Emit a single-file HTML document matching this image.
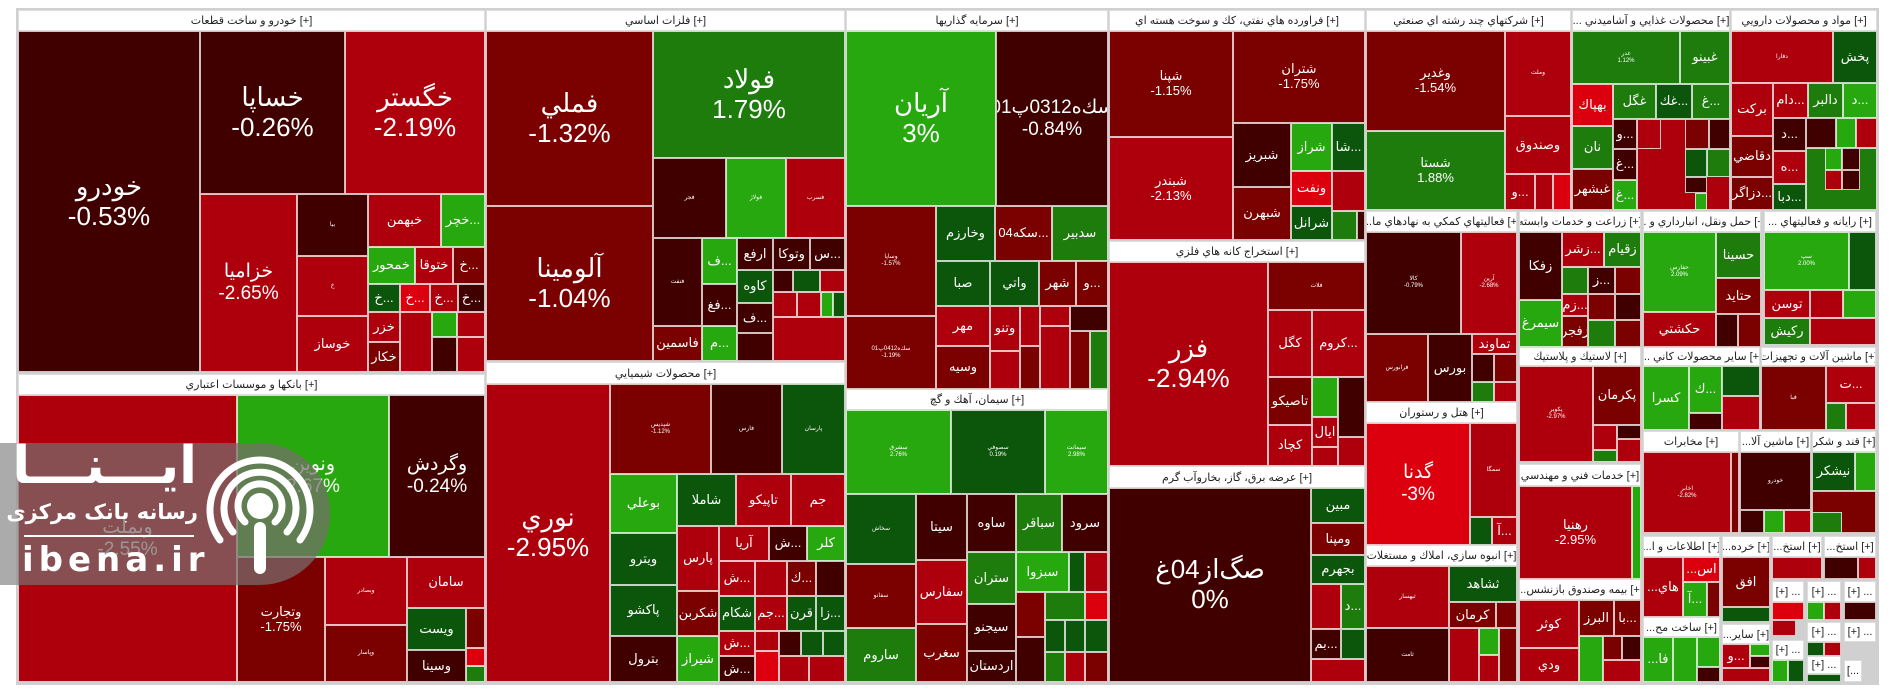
<!DOCTYPE html>
<html><head><meta charset="utf-8"><style>
body{margin:0;width:1896px;height:698px;background:#fff;position:relative;overflow:hidden;font-family:"Liberation Sans","DejaVu Sans",sans-serif}
.bg{position:absolute;left:16px;top:8px;width:1863px;height:677px;background:#d0d0d0}
.c{position:absolute;box-sizing:border-box;border:1px solid rgba(255,255,255,.75);color:#fff;display:flex;align-items:center;justify-content:center;text-align:center;line-height:1.15;overflow:hidden;font-size:11px}
.h{position:absolute;box-sizing:border-box;background:#fff;color:#222;font-size:11px;display:flex;align-items:center;justify-content:center;white-space:nowrap;overflow:hidden;border:1px solid #ddd}
.k0{background:#400000}.k1{background:#7b0000}.k2{background:#ae000c}.k3{background:#dc000f}
.g1{background:#27a80e}.g2{background:#1e7c0d}.g3{background:#0b560b}
.b{font-size:26px}.m{font-size:19px}.s{font-size:13px}.t{font-size:6px}
</style></head><body>
<div class="bg"></div>
<!-- Auto -->
<div class="h" style="left:18px;top:10px;width:467px;height:21px">خودرو و ساخت قطعات [+]</div>
<div class="c k0 b" style="left:18px;top:31px;width:182px;height:341px">خودرو<br>-0.53%</div>
<div class="c k0 b" style="left:200px;top:31px;width:145px;height:163px">خساپا<br>-0.26%</div>
<div class="c k2 b" style="left:345px;top:31px;width:140px;height:163px">خگستر<br>-2.19%</div>
<div class="c k2 m" style="left:200px;top:194px;width:97px;height:178px">خزامیا<br>-2.65%</div>
<div class="c k0 t" style="left:297px;top:194px;width:71px;height:62px">بيا</div>
<div class="c k2 t" style="left:297px;top:256px;width:71px;height:60px">خ</div>
<div class="c k2 s" style="left:297px;top:316px;width:71px;height:56px">خوساز</div>
<div class="c k2 s" style="left:368px;top:194px;width:73px;height:53px">خبهمن</div>
<div class="c g1 s" style="left:441px;top:194px;width:44px;height:53px">خچر...</div>
<div class="c g1 s" style="left:368px;top:247px;width:47px;height:37px">خمحور</div>
<div class="c k2 s" style="left:415px;top:247px;width:38px;height:37px">ختوقا</div>
<div class="c k1 s" style="left:453px;top:247px;width:32px;height:37px">خ...</div>
<div class="c g3 s" style="left:368px;top:284px;width:32px;height:28px">خ...</div>
<div class="c k3 s" style="left:400px;top:284px;width:30px;height:28px">خ...</div>
<div class="c k2 s" style="left:430px;top:284px;width:28px;height:28px">خ...</div>
<div class="c k0 s" style="left:458px;top:284px;width:27px;height:28px">خ...</div>
<div class="c k2 s" style="left:368px;top:312px;width:32px;height:30px">خزر</div>
<div class="c k1 s" style="left:368px;top:342px;width:32px;height:30px">خکار</div>
<div class="c k2" style="left:400px;top:312px;width:32px;height:60px"></div>
<div class="c g1" style="left:432px;top:312px;width:25px;height:25px"></div>
<div class="c k2" style="left:457px;top:312px;width:28px;height:25px"></div>
<div class="c k0" style="left:432px;top:337px;width:25px;height:35px"></div>
<div class="c k2" style="left:457px;top:337px;width:28px;height:35px"></div>
<!-- Banks -->
<div class="h" style="left:18px;top:374px;width:467px;height:21px">بانكها و موسسات اعتباري [+]</div>
<div class="c k2 m" style="left:18px;top:395px;width:219px;height:287px">وبملت<br>-2.55%</div>
<div class="c g1 m" style="left:237px;top:395px;width:152px;height:162px">ونوين<br>2.67%</div>
<div class="c k0 m" style="left:389px;top:395px;width:96px;height:162px">وگردش<br>-0.24%</div>
<div class="c k1 s" style="left:237px;top:557px;width:88px;height:125px">وتجارت<br>-1.75%</div>
<div class="c k2 t" style="left:325px;top:557px;width:82px;height:68px">وبصادر</div>
<div class="c k1 t" style="left:325px;top:625px;width:82px;height:57px">وپاسار</div>
<div class="c k2 s" style="left:407px;top:557px;width:78px;height:51px">سامان</div>
<div class="c g3 s" style="left:407px;top:608px;width:59px;height:42px">ويست</div>
<div class="c k0 s" style="left:407px;top:650px;width:59px;height:32px">وسينا</div>
<div class="c k1" style="left:466px;top:608px;width:19px;height:40px"></div>
<div class="c k3" style="left:466px;top:648px;width:19px;height:18px"></div>
<div class="c g2" style="left:466px;top:666px;width:19px;height:16px"></div>
<!-- Metals -->
<div class="h" style="left:486px;top:10px;width:359px;height:21px">فلزات اساسي [+]</div>
<div class="c k1 b" style="left:486px;top:31px;width:167px;height:175px">فملي<br>-1.32%</div>
<div class="c k1 b" style="left:486px;top:206px;width:167px;height:155px">آلومينا<br>-1.04%</div>
<div class="c g2 b" style="left:653px;top:31px;width:192px;height:127px">فولاد<br>1.79%</div>
<div class="c k0 t" style="left:653px;top:158px;width:73px;height:80px">فجر</div>
<div class="c g1 t" style="left:726px;top:158px;width:60px;height:80px">فولاژ</div>
<div class="c k2 t" style="left:786px;top:158px;width:59px;height:80px">فسرب</div>
<div class="c k0 t" style="left:653px;top:238px;width:49px;height:88px">فنفت</div>
<div class="c g1 s" style="left:702px;top:238px;width:35px;height:46px">ف...</div>
<div class="c k0 s" style="left:702px;top:284px;width:35px;height:42px">فغ...</div>
<div class="c k0 s" style="left:737px;top:238px;width:36px;height:32px">ارفع</div>
<div class="c k0 s" style="left:773px;top:238px;width:37px;height:32px">وتوكا</div>
<div class="c k0 s" style="left:810px;top:238px;width:35px;height:32px">س...</div>
<div class="c g3 s" style="left:737px;top:270px;width:36px;height:33px">كاوه</div>
<div class="c k0" style="left:773px;top:270px;width:20px;height:22px"></div>
<div class="c g3" style="left:793px;top:270px;width:27px;height:22px"></div>
<div class="c k2" style="left:820px;top:270px;width:25px;height:22px"></div>
<div class="c k0 s" style="left:737px;top:303px;width:36px;height:30px">ف...</div>
<div class="c k2" style="left:773px;top:292px;width:24px;height:25px"></div>
<div class="c k2" style="left:797px;top:292px;width:24px;height:25px"></div>
<div class="c g1" style="left:821px;top:292px;width:12px;height:25px"></div>
<div class="c g3" style="left:833px;top:292px;width:12px;height:25px"></div>
<div class="c k2" style="left:773px;top:317px;width:72px;height:44px"></div>
<div class="c k0" style="left:737px;top:333px;width:36px;height:28px"></div>
<div class="c k1 s" style="left:653px;top:326px;width:49px;height:35px">فاسمين</div>
<div class="c g1 s" style="left:702px;top:326px;width:35px;height:35px">م...</div>
<!-- Chemicals -->
<div class="h" style="left:486px;top:362px;width:359px;height:22px">محصولات شيميايي [+]</div>
<div class="c k2 b" style="left:486px;top:384px;width:124px;height:298px">نوري<br>-2.95%</div>
<div class="c k1 t" style="left:610px;top:384px;width:101px;height:90px">شپدیس<br>-1.12%</div>
<div class="c k0 t" style="left:711px;top:384px;width:71px;height:90px">فارس</div>
<div class="c g3 t" style="left:782px;top:384px;width:63px;height:90px">پارسان</div>
<div class="c g1 s" style="left:610px;top:474px;width:67px;height:59px">بوعلي</div>
<div class="c g3 s" style="left:677px;top:474px;width:59px;height:52px">شاملا</div>
<div class="c k2 s" style="left:736px;top:474px;width:55px;height:52px">تاپيكو</div>
<div class="c k2 s" style="left:791px;top:474px;width:54px;height:52px">جم</div>
<div class="c g3 s" style="left:610px;top:533px;width:67px;height:52px">ويترو</div>
<div class="c g3 s" style="left:610px;top:585px;width:67px;height:51px">پاكشو</div>
<div class="c k0 s" style="left:610px;top:636px;width:67px;height:46px">بترول</div>
<div class="c k2 s" style="left:677px;top:526px;width:42px;height:65px">پارس</div>
<div class="c k1 s" style="left:677px;top:591px;width:42px;height:45px">شكربن</div>
<div class="c g1 s" style="left:677px;top:636px;width:42px;height:46px">شيراز</div>
<div class="c k2 s" style="left:719px;top:526px;width:50px;height:35px">آريا</div>
<div class="c k0 s" style="left:769px;top:526px;width:38px;height:35px">ش...</div>
<div class="c g1 s" style="left:807px;top:526px;width:38px;height:35px">كلر</div>
<div class="c k2 s" style="left:719px;top:561px;width:36px;height:35px">ش...</div>
<div class="c k2" style="left:755px;top:561px;width:32px;height:35px"></div>
<div class="c k1 s" style="left:787px;top:561px;width:29px;height:35px">ك...</div>
<div class="c k0" style="left:816px;top:561px;width:29px;height:35px"></div>
<div class="c g3 s" style="left:719px;top:596px;width:36px;height:35px">شكام</div>
<div class="c k2 s" style="left:755px;top:596px;width:32px;height:35px">جم...</div>
<div class="c g3 s" style="left:787px;top:596px;width:29px;height:35px">قرن</div>
<div class="c g3 s" style="left:816px;top:596px;width:29px;height:35px">زا...</div>
<div class="c k2 s" style="left:719px;top:631px;width:36px;height:25px">ش...</div>
<div class="c k0 s" style="left:719px;top:656px;width:36px;height:26px">ش...</div>
<div class="c k2" style="left:755px;top:631px;width:24px;height:20px"></div>
<div class="c k3" style="left:755px;top:651px;width:24px;height:31px"></div>
<div class="c k0" style="left:779px;top:631px;width:22px;height:25px"></div>
<div class="c g3" style="left:801px;top:631px;width:22px;height:25px"></div>
<div class="c g3" style="left:823px;top:631px;width:22px;height:25px"></div>
<div class="c k2" style="left:779px;top:656px;width:30px;height:26px"></div>
<div class="c k2" style="left:809px;top:656px;width:36px;height:26px"></div>
<!-- Investments -->
<div class="h" style="left:846px;top:10px;width:262px;height:21px">سرمايه گذاريها [+]</div>
<div class="c g1 b" style="left:846px;top:31px;width:150px;height:175px">آريان<br>3%</div>
<div class="c k0 m" style="left:996px;top:31px;width:112px;height:175px">سك‌ه0312پ01<br>-0.84%</div>
<div class="c k1 t" style="left:846px;top:206px;width:90px;height:110px">وساپا<br>-1.57%</div>
<div class="c k1 t" style="left:846px;top:316px;width:90px;height:73px">سك‌ه0412پ01<br>-1.19%</div>
<div class="c g3 s" style="left:936px;top:206px;width:59px;height:55px">وخارزم</div>
<div class="c k1 s" style="left:995px;top:206px;width:57px;height:55px">سكه04...</div>
<div class="c g2 s" style="left:1052px;top:206px;width:56px;height:55px">سدبير</div>
<div class="c g3 s" style="left:936px;top:261px;width:54px;height:45px">صبا</div>
<div class="c g3 s" style="left:990px;top:261px;width:49px;height:45px">واتي</div>
<div class="c k1 s" style="left:1039px;top:261px;width:37px;height:45px">شهر</div>
<div class="c k1 s" style="left:1076px;top:261px;width:32px;height:45px">و...</div>
<div class="c k2 s" style="left:936px;top:306px;width:54px;height:40px">مهر</div>
<div class="c k1 s" style="left:936px;top:346px;width:54px;height:43px">وسيه</div>
<div class="c k2 s" style="left:990px;top:306px;width:30px;height:45px">وتنو</div>
<div class="c k2" style="left:990px;top:351px;width:30px;height:38px"></div>
<div class="c k2" style="left:1020px;top:306px;width:20px;height:40px"></div>
<div class="c k1" style="left:1020px;top:346px;width:20px;height:43px"></div>
<div class="c k2" style="left:1040px;top:306px;width:30px;height:20px"></div>
<div class="c k0" style="left:1070px;top:306px;width:38px;height:25px"></div>
<div class="c k2" style="left:1040px;top:326px;width:30px;height:63px"></div>
<div class="c k1" style="left:1070px;top:331px;width:20px;height:58px"></div>
<div class="c g2" style="left:1090px;top:331px;width:18px;height:58px"></div>
<!-- Cement -->
<div class="h" style="left:846px;top:389px;width:262px;height:21px">سيمان، آهك و گچ [+]</div>
<div class="c g1 t" style="left:846px;top:410px;width:105px;height:84px">سشرق<br>2.76%</div>
<div class="c g3 t" style="left:951px;top:410px;width:94px;height:84px">سصوفي<br>0.19%</div>
<div class="c g1 t" style="left:1045px;top:410px;width:63px;height:84px">سيمانت<br>2.98%</div>
<div class="c g3 t" style="left:846px;top:494px;width:70px;height:70px">سخاش</div>
<div class="c k1 t" style="left:846px;top:564px;width:70px;height:64px">سفانو</div>
<div class="c g2 s" style="left:846px;top:628px;width:70px;height:54px">ساروم</div>
<div class="c k0 s" style="left:916px;top:494px;width:51px;height:66px">سيتا</div>
<div class="c k2 s" style="left:916px;top:560px;width:51px;height:64px">سفارس</div>
<div class="c k1 s" style="left:916px;top:624px;width:51px;height:58px">سغرب</div>
<div class="c k0 s" style="left:967px;top:494px;width:49px;height:58px">ساوه</div>
<div class="c g2 s" style="left:1016px;top:494px;width:46px;height:58px">سباقر</div>
<div class="c k0 s" style="left:1062px;top:494px;width:46px;height:58px">سرود</div>
<div class="c g2 s" style="left:967px;top:552px;width:49px;height:52px">ستران</div>
<div class="c g1 s" style="left:1016px;top:552px;width:53px;height:40px">سبزوا</div>
<div class="c g3" style="left:1069px;top:552px;width:16px;height:40px"></div>
<div class="c k2" style="left:1085px;top:552px;width:23px;height:40px"></div>
<div class="c k0 s" style="left:967px;top:604px;width:49px;height:47px">سيجنو</div>
<div class="c k0 s" style="left:967px;top:651px;width:49px;height:31px">اردستان</div>
<div class="c k1" style="left:1016px;top:592px;width:29px;height:45px"></div>
<div class="c k0" style="left:1016px;top:637px;width:29px;height:45px"></div>
<div class="c g2" style="left:1045px;top:592px;width:40px;height:28px"></div>
<div class="c k3" style="left:1085px;top:592px;width:23px;height:28px"></div>
<div class="c g3" style="left:1045px;top:620px;width:20px;height:32px"></div>
<div class="c g3" style="left:1065px;top:620px;width:20px;height:32px"></div>
<div class="c g3" style="left:1085px;top:620px;width:23px;height:32px"></div>
<div class="c g2" style="left:1045px;top:652px;width:20px;height:30px"></div>
<div class="c k2" style="left:1065px;top:652px;width:20px;height:30px"></div>
<div class="c k1" style="left:1085px;top:652px;width:23px;height:30px"></div>
<!-- Refinery -->
<div class="h" style="left:1109px;top:10px;width:256px;height:21px">فراورده هاي نفتي، كك و سوخت هسته اي [+]</div>
<div class="c k1 s" style="left:1109px;top:31px;width:124px;height:106px">شپنا<br>-1.15%</div>
<div class="c k2 s" style="left:1109px;top:137px;width:124px;height:103px">شبندر<br>-2.13%</div>
<div class="c k1 s" style="left:1233px;top:31px;width:132px;height:92px">شتران<br>-1.75%</div>
<div class="c k0 s" style="left:1233px;top:123px;width:58px;height:64px">شبريز</div>
<div class="c k1 s" style="left:1233px;top:187px;width:58px;height:53px">شبهرن</div>
<div class="c g1 s" style="left:1291px;top:123px;width:41px;height:48px">شراز</div>
<div class="c g3 s" style="left:1332px;top:123px;width:33px;height:48px">شا...</div>
<div class="c k3 s" style="left:1291px;top:171px;width:41px;height:35px">ونفت</div>
<div class="c g3 s" style="left:1291px;top:206px;width:41px;height:34px">شرانل</div>
<div class="c k2" style="left:1332px;top:171px;width:33px;height:40px"></div>
<div class="c g2" style="left:1332px;top:211px;width:25px;height:29px"></div>
<div class="c k0" style="left:1357px;top:211px;width:8px;height:29px"></div>
<!-- Extraction -->
<div class="h" style="left:1109px;top:241px;width:256px;height:21px">استخراج كانه هاي فلزي [+]</div>
<div class="c k2 b" style="left:1109px;top:262px;width:159px;height:204px">فزر<br>-2.94%</div>
<div class="c k1 t" style="left:1268px;top:262px;width:97px;height:48px">فلات</div>
<div class="c k2 s" style="left:1268px;top:310px;width:44px;height:67px">كگل</div>
<div class="c k2 s" style="left:1312px;top:310px;width:53px;height:67px">كروم...</div>
<div class="c k1 s" style="left:1268px;top:377px;width:44px;height:48px">تاصيكو</div>
<div class="c k2 s" style="left:1268px;top:425px;width:44px;height:41px">كچاد</div>
<div class="c g1" style="left:1312px;top:377px;width:26px;height:40px"></div>
<div class="c k0" style="left:1338px;top:377px;width:27px;height:60px"></div>
<div class="c k2 s" style="left:1312px;top:417px;width:26px;height:30px">ايال</div>
<div class="c k2" style="left:1312px;top:447px;width:26px;height:19px"></div>
<div class="c k2" style="left:1338px;top:437px;width:27px;height:29px"></div>
<!-- Utility -->
<div class="h" style="left:1109px;top:466px;width:256px;height:22px">عرضه برق، گاز، بخاروآب گرم [+]</div>
<div class="c k0 b" style="left:1109px;top:488px;width:202px;height:194px">صگ‌از04غ<br>0%</div>
<div class="c g3 s" style="left:1311px;top:488px;width:54px;height:35px">مبين</div>
<div class="c k1 s" style="left:1311px;top:523px;width:54px;height:32px">ومپنا</div>
<div class="c g3 s" style="left:1311px;top:555px;width:54px;height:29px">بجهرم</div>
<div class="c k2" style="left:1311px;top:584px;width:30px;height:45px"></div>
<div class="c g2 s" style="left:1341px;top:584px;width:24px;height:45px">د...</div>
<div class="c k0 s" style="left:1311px;top:629px;width:30px;height:30px">بم...</div>
<div class="c g3" style="left:1341px;top:629px;width:24px;height:30px"></div>
<div class="c k2" style="left:1311px;top:659px;width:54px;height:23px"></div>
<!-- Multi -->
<div class="h" style="left:1366px;top:10px;width:205px;height:21px">شركتهاي چند رشته اي صنعتي [+]</div>
<div class="c k1 s" style="left:1366px;top:31px;width:139px;height:100px">وغدير<br>-1.54%</div>
<div class="c g2 s" style="left:1366px;top:131px;width:139px;height:79px">شستا<br>1.88%</div>
<div class="c k2 t" style="left:1505px;top:31px;width:66px;height:85px">وملت</div>
<div class="c k2 s" style="left:1505px;top:116px;width:66px;height:58px">وصندوق</div>
<div class="c k2 s" style="left:1505px;top:174px;width:30px;height:36px">و...</div>
<div class="c k2" style="left:1535px;top:174px;width:18px;height:36px"></div>
<div class="c k3" style="left:1553px;top:174px;width:18px;height:36px"></div>
<!-- Food -->
<div class="h" style="left:1572px;top:10px;width:158px;height:21px">... محصولات غذايي و آشاميدني [+]</div>
<div class="c g2 t" style="left:1572px;top:31px;width:108px;height:53px">غدر<br>1.12%</div>
<div class="c g2 s" style="left:1680px;top:31px;width:50px;height:53px">غبينو</div>
<div class="c k3 s" style="left:1572px;top:84px;width:41px;height:42px">بهپاك</div>
<div class="c g2 s" style="left:1572px;top:126px;width:41px;height:43px">نان</div>
<div class="c k1 s" style="left:1572px;top:169px;width:41px;height:41px">غبشهر</div>
<div class="c g2 s" style="left:1613px;top:84px;width:43px;height:35px">غگل</div>
<div class="c g3 s" style="left:1656px;top:84px;width:36px;height:35px">غك...</div>
<div class="c g2 s" style="left:1692px;top:84px;width:38px;height:35px">غ...</div>
<div class="c k0 s" style="left:1613px;top:119px;width:24px;height:30px">و...</div>
<div class="c k0 s" style="left:1613px;top:149px;width:24px;height:31px">غ...</div>
<div class="c g1 s" style="left:1613px;top:180px;width:24px;height:30px">غ...</div>
<div class="c k2" style="left:1637px;top:119px;width:93px;height:91px"></div>
<div class="c k2" style="left:1637px;top:119px;width:24px;height:30px"></div>
<div class="c k1" style="left:1685px;top:119px;width:24px;height:30px"></div>
<div class="c k0" style="left:1709px;top:119px;width:21px;height:30px"></div>
<div class="c g3" style="left:1685px;top:149px;width:22px;height:28px"></div>
<div class="c g2" style="left:1707px;top:149px;width:23px;height:28px"></div>
<div class="c k0" style="left:1685px;top:177px;width:22px;height:16px"></div>
<div class="c g1" style="left:1695px;top:193px;width:12px;height:17px"></div>
<!-- Pharma -->
<div class="h" style="left:1731px;top:10px;width:146px;height:21px">مواد و محصولات دارويي [+]</div>
<div class="c k2 t" style="left:1731px;top:31px;width:102px;height:52px">دفارا</div>
<div class="c g3 s" style="left:1833px;top:31px;width:44px;height:52px">پخش</div>
<div class="c k2 s" style="left:1731px;top:83px;width:42px;height:53px">بركت</div>
<div class="c k1 s" style="left:1731px;top:136px;width:42px;height:41px">دقاضي</div>
<div class="c k1 s" style="left:1731px;top:177px;width:42px;height:33px">دزاگر...</div>
<div class="c k2 s" style="left:1773px;top:83px;width:35px;height:35px">دام...</div>
<div class="c g2 s" style="left:1808px;top:83px;width:35px;height:35px">دالبر</div>
<div class="c g1 s" style="left:1843px;top:83px;width:34px;height:35px">د...</div>
<div class="c k0 s" style="left:1773px;top:118px;width:33px;height:33px">د...</div>
<div class="c k0" style="left:1806px;top:118px;width:30px;height:30px"></div>
<div class="c g1" style="left:1836px;top:118px;width:20px;height:30px"></div>
<div class="c k2" style="left:1856px;top:118px;width:21px;height:30px"></div>
<div class="c k2 s" style="left:1773px;top:151px;width:33px;height:33px">ه...</div>
<div class="c g3 s" style="left:1773px;top:184px;width:33px;height:26px">دبا...</div>
<div class="c g2" style="left:1806px;top:148px;width:71px;height:62px"></div>
<div class="c g1" style="left:1825px;top:148px;width:17px;height:22px"></div>
<div class="c k0" style="left:1842px;top:148px;width:18px;height:22px"></div>
<div class="c k2" style="left:1825px;top:170px;width:17px;height:20px"></div>
<div class="c k0" style="left:1842px;top:170px;width:18px;height:20px"></div>
<!-- Support -->
<div class="h" style="left:1366px;top:211px;width:151px;height:21px">...فعاليتهاي كمكي به نهادهاي ما [+]</div>
<div class="c k0 t" style="left:1366px;top:232px;width:95px;height:102px">كالا<br>-0.79%</div>
<div class="c k2 t" style="left:1461px;top:232px;width:56px;height:102px">آرين<br>-2.68%</div>
<div class="c k1 t" style="left:1366px;top:334px;width:62px;height:68px">فرابورس</div>
<div class="c k0 s" style="left:1428px;top:334px;width:44px;height:68px">بورس</div>
<div class="c k2 s" style="left:1472px;top:334px;width:45px;height:20px">تماوند</div>
<div class="c k0" style="left:1472px;top:354px;width:22px;height:28px"></div>
<div class="c k1" style="left:1494px;top:354px;width:23px;height:28px"></div>
<div class="c g2" style="left:1472px;top:382px;width:22px;height:20px"></div>
<div class="c k2" style="left:1494px;top:382px;width:23px;height:20px"></div>
<!-- Hotel -->
<div class="h" style="left:1366px;top:402px;width:151px;height:21px">هتل و رستوران [+]</div>
<div class="c k3 m" style="left:1366px;top:423px;width:104px;height:122px">گدنا<br>-3%</div>
<div class="c k2 t" style="left:1470px;top:423px;width:47px;height:94px">سمگا</div>
<div class="c g3" style="left:1470px;top:517px;width:22px;height:28px"></div>
<div class="c k2 s" style="left:1492px;top:517px;width:25px;height:28px">آ...</div>
<!-- Housing -->
<div class="h" style="left:1366px;top:545px;width:151px;height:21px">انبوه سازي، املاك و مستغلات [+]</div>
<div class="c k2 t" style="left:1366px;top:566px;width:83px;height:62px">ثبهسار</div>
<div class="c g3 s" style="left:1449px;top:566px;width:68px;height:36px">ثشاهد</div>
<div class="c k1 s" style="left:1449px;top:602px;width:47px;height:26px">كرمان</div>
<div class="c k1" style="left:1496px;top:602px;width:21px;height:26px"></div>
<div class="c k0 t" style="left:1366px;top:628px;width:83px;height:54px">ثامت</div>
<div class="c k2" style="left:1449px;top:628px;width:30px;height:54px"></div>
<div class="c g1" style="left:1479px;top:628px;width:20px;height:27px"></div>
<div class="c k1" style="left:1499px;top:628px;width:18px;height:54px"></div>
<div class="c k2" style="left:1479px;top:655px;width:20px;height:27px"></div>
<!-- Agri -->
<div class="h" style="left:1519px;top:211px;width:122px;height:21px">زراعت و خدمات وابسته [+]</div>
<div class="c k0 s" style="left:1519px;top:232px;width:43px;height:68px">زفكا</div>
<div class="c g1 s" style="left:1519px;top:300px;width:43px;height:47px">سيمرغ</div>
<div class="c k2 s" style="left:1562px;top:232px;width:42px;height:35px">زشر...</div>
<div class="c g2 s" style="left:1604px;top:232px;width:37px;height:35px">زقيام</div>
<div class="c g2" style="left:1562px;top:267px;width:26px;height:27px"></div>
<div class="c k0 s" style="left:1588px;top:267px;width:27px;height:27px">ز...</div>
<div class="c k1" style="left:1615px;top:267px;width:26px;height:27px"></div>
<div class="c k2 s" style="left:1562px;top:294px;width:26px;height:22px">زم...</div>
<div class="c k1 s" style="left:1562px;top:316px;width:26px;height:31px">زفجر</div>
<div class="c k1" style="left:1588px;top:294px;width:27px;height:26px"></div>
<div class="c k0" style="left:1615px;top:294px;width:26px;height:26px"></div>
<div class="c g2" style="left:1588px;top:320px;width:27px;height:27px"></div>
<div class="c k1" style="left:1615px;top:320px;width:26px;height:27px"></div>
<!-- Transport -->
<div class="h" style="left:1643px;top:211px;width:118px;height:21px">... حمل ونقل، انبارداري و [+]</div>
<div class="c g1 t" style="left:1643px;top:232px;width:73px;height:80px">حفارس<br>2.09%</div>
<div class="c g2 s" style="left:1716px;top:232px;width:45px;height:46px">حسينا</div>
<div class="c k1 s" style="left:1716px;top:278px;width:45px;height:36px">حتايد</div>
<div class="c k2 s" style="left:1643px;top:312px;width:73px;height:35px">حكشتي</div>
<div class="c k0" style="left:1716px;top:314px;width:22px;height:33px"></div>
<div class="c k1" style="left:1738px;top:314px;width:23px;height:33px"></div>
<!-- IT -->
<div class="h" style="left:1764px;top:211px;width:112px;height:21px">... رايانه و فعاليتهاي [+]</div>
<div class="c g1 t" style="left:1764px;top:232px;width:85px;height:58px">سپ<br>2.00%</div>
<div class="c g3" style="left:1849px;top:232px;width:27px;height:58px"></div>
<div class="c k2 s" style="left:1764px;top:290px;width:46px;height:28px">توسن</div>
<div class="c g2 s" style="left:1764px;top:318px;width:46px;height:27px">ركيش</div>
<div class="c k2" style="left:1810px;top:290px;width:33px;height:28px"></div>
<div class="c g1" style="left:1843px;top:290px;width:33px;height:28px"></div>
<div class="c k2" style="left:1810px;top:318px;width:66px;height:27px"></div>
<!-- Rubber -->
<div class="h" style="left:1519px;top:347px;width:122px;height:19px">لاستيك و پلاستيك [+]</div>
<div class="c k2 t" style="left:1519px;top:366px;width:74px;height:96px">پكوير<br>-2.97%</div>
<div class="c k1 s" style="left:1593px;top:366px;width:48px;height:59px">پكرمان</div>
<div class="c k2" style="left:1593px;top:425px;width:24px;height:25px"></div>
<div class="c k0" style="left:1617px;top:425px;width:24px;height:14px"></div>
<div class="c g2" style="left:1593px;top:450px;width:24px;height:12px"></div>
<div class="c k2" style="left:1617px;top:439px;width:24px;height:23px"></div>
<!-- Tech services -->
<div class="h" style="left:1519px;top:464px;width:122px;height:22px">خدمات فني و مهندسي [+]</div>
<div class="c k2 s" style="left:1519px;top:486px;width:113px;height:93px">رهنيا<br>-2.95%</div>
<div class="c g1" style="left:1632px;top:486px;width:9px;height:93px"></div>
<!-- Insurance -->
<div class="h" style="left:1519px;top:579px;width:122px;height:21px">...بيمه وصندوق بازنشس [+]</div>
<div class="c k2 s" style="left:1519px;top:600px;width:60px;height:48px">كوثر</div>
<div class="c k2 s" style="left:1519px;top:648px;width:60px;height:34px">ودي</div>
<div class="c k1 s" style="left:1579px;top:600px;width:35px;height:36px">البرز</div>
<div class="c k1 s" style="left:1614px;top:600px;width:27px;height:36px">با...</div>
<div class="c g1" style="left:1579px;top:636px;width:24px;height:46px"></div>
<div class="c k1" style="left:1603px;top:636px;width:19px;height:24px"></div>
<div class="c k0" style="left:1622px;top:636px;width:19px;height:24px"></div>
<div class="c k2" style="left:1603px;top:660px;width:38px;height:22px"></div>
<!-- Other minerals -->
<div class="h" style="left:1643px;top:347px;width:117px;height:19px">... ساير محصولات كاني [+]</div>
<div class="c g1 s" style="left:1643px;top:366px;width:46px;height:64px">كسرا</div>
<div class="c g1 s" style="left:1689px;top:366px;width:33px;height:47px">ك...</div>
<div class="c k0" style="left:1689px;top:413px;width:33px;height:17px"></div>
<div class="c g3" style="left:1722px;top:366px;width:38px;height:30px"></div>
<div class="c k2" style="left:1722px;top:396px;width:38px;height:34px"></div>
<!-- Machinery -->
<div class="h" style="left:1761px;top:347px;width:115px;height:19px">ماشين آلات و تجهيزات [+]</div>
<div class="c k1 t" style="left:1761px;top:366px;width:65px;height:64px">فبا</div>
<div class="c k2 s" style="left:1826px;top:366px;width:50px;height:37px">ت...</div>
<div class="c g2" style="left:1826px;top:403px;width:20px;height:27px"></div>
<div class="c k2" style="left:1846px;top:403px;width:30px;height:27px"></div>
<!-- Telecom etc -->
<div class="h" style="left:1643px;top:431px;width:96px;height:21px">مخابرات [+]</div>
<div class="c k2 t" style="left:1643px;top:452px;width:88px;height:81px">اخابر<br>-2.82%</div>
<div class="c k1" style="left:1731px;top:452px;width:8px;height:81px"></div>
<div class="h" style="left:1740px;top:431px;width:71px;height:21px">...ماشين آلا [+]</div>
<div class="c k0 t" style="left:1740px;top:452px;width:71px;height:58px">خودرو</div>
<div class="c k0" style="left:1740px;top:510px;width:24px;height:23px"></div>
<div class="c g1" style="left:1764px;top:510px;width:20px;height:23px"></div>
<div class="c k2" style="left:1784px;top:510px;width:27px;height:23px"></div>
<div class="h" style="left:1812px;top:431px;width:64px;height:21px">قند و شكر [+]</div>
<div class="c g3 s" style="left:1812px;top:452px;width:43px;height:39px">نيشكر</div>
<div class="c g1" style="left:1855px;top:452px;width:21px;height:39px"></div>
<div class="c k1" style="left:1812px;top:491px;width:64px;height:42px"></div>
<div class="c g2" style="left:1812px;top:512px;width:30px;height:21px"></div>
<!-- small bottom right -->
<div class="h" style="left:1643px;top:536px;width:77px;height:21px">...اطلاعات و ا [+]</div>
<div class="c k2 s" style="left:1643px;top:557px;width:40px;height:60px">...هاي</div>
<div class="c k3 s" style="left:1683px;top:557px;width:37px;height:25px">...اس</div>
<div class="c g1 s" style="left:1683px;top:582px;width:24px;height:35px">آ...</div>
<div class="c k1" style="left:1707px;top:582px;width:13px;height:35px"></div>
<div class="h" style="left:1722px;top:536px;width:48px;height:21px">...خرده [+]</div>
<div class="c k1 s" style="left:1722px;top:557px;width:48px;height:50px">افق</div>
<div class="c g3" style="left:1722px;top:607px;width:48px;height:15px"></div>
<div class="h" style="left:1772px;top:536px;width:50px;height:21px">...استخ [+]</div>
<div class="c k2" style="left:1772px;top:557px;width:50px;height:22px"></div>
<div class="h" style="left:1824px;top:536px;width:52px;height:21px">...استخ [+]</div>
<div class="c k0" style="left:1824px;top:557px;width:34px;height:22px"></div>
<div class="c k2" style="left:1858px;top:557px;width:18px;height:22px"></div>
<div class="h" style="left:1772px;top:581px;width:32px;height:21px">[+] ...</div>
<div class="h" style="left:1807px;top:581px;width:34px;height:21px">[+] ...</div>
<div class="h" style="left:1844px;top:581px;width:32px;height:21px">[+] ...</div>
<div class="c k3" style="left:1772px;top:602px;width:32px;height:18px"></div>
<div class="c g1" style="left:1807px;top:602px;width:17px;height:18px"></div>
<div class="c k2" style="left:1824px;top:602px;width:17px;height:18px"></div>
<div class="c k0" style="left:1844px;top:602px;width:32px;height:18px"></div>
<div class="c k2" style="left:1772px;top:620px;width:24px;height:16px"></div>
<div class="h" style="left:1643px;top:617px;width:77px;height:20px">...ساخت مح [+]</div>
<div class="c g1 s" style="left:1643px;top:637px;width:30px;height:45px">...فا</div>
<div class="c g1" style="left:1673px;top:637px;width:24px;height:45px"></div>
<div class="c g1" style="left:1697px;top:637px;width:23px;height:30px"></div>
<div class="c k0" style="left:1697px;top:667px;width:23px;height:15px"></div>
<div class="h" style="left:1722px;top:624px;width:48px;height:20px">...ساير [+]</div>
<div class="c k2 s" style="left:1722px;top:644px;width:28px;height:24px">و...</div>
<div class="c g1" style="left:1750px;top:644px;width:20px;height:12px"></div>
<div class="c k0" style="left:1750px;top:656px;width:20px;height:12px"></div>
<div class="c k2" style="left:1722px;top:668px;width:48px;height:14px"></div>
<div class="h" style="left:1807px;top:622px;width:34px;height:20px">[+] ...</div>
<div class="h" style="left:1844px;top:622px;width:32px;height:20px">[+] ...</div>
<div class="h" style="left:1772px;top:640px;width:32px;height:20px">[+] ...</div>
<div class="c g3" style="left:1807px;top:642px;width:17px;height:14px"></div>
<div class="c k2" style="left:1824px;top:642px;width:17px;height:14px"></div>
<div class="h" style="left:1807px;top:656px;width:34px;height:18px">[+] ...</div>
<div class="c g1" style="left:1772px;top:660px;width:16px;height:22px"></div>
<div class="c g3" style="left:1788px;top:660px;width:16px;height:22px"></div>
<div class="c g3" style="left:1807px;top:674px;width:34px;height:8px"></div>
<div class="h" style="left:1844px;top:660px;width:18px;height:22px">[...</div>
<!-- Watermark -->
<div style="position:absolute;left:0;top:443px;width:18px;height:142px;background:rgba(150,150,150,.8)"></div>
<div style="position:absolute;left:18px;top:443px;width:312px;height:142px;background:rgba(120,110,110,.72);border-radius:0 70px 70px 0"></div>
<div style="position:absolute;left:22px;top:436px;width:175px;text-align:center;color:#fff;font:bold 52px 'DejaVu Sans',sans-serif;direction:rtl;white-space:nowrap;letter-spacing:2px">ایـــنـــا</div>
<div style="position:absolute;left:18px;top:500px;width:180px;text-align:center;color:#fff;font:bold 21px 'DejaVu Sans',sans-serif;direction:rtl;white-space:nowrap">رسانه بانک مرکزی</div>
<div style="position:absolute;left:24px;top:535px;width:170px;height:2px;background:#fff"></div>
<div style="position:absolute;left:22px;top:540px;color:#fff;font:bold 34px 'DejaVu Sans',sans-serif;letter-spacing:5px;white-space:nowrap">ibena.ir</div>
<svg style="position:absolute;left:195px;top:440px" width="130" height="145" viewBox="0 0 130 145">
<g fill="none" stroke="#fff" stroke-width="7" stroke-linecap="round">
<path d="M25 100 A50 50 0 1 1 105 100"/>
<path d="M38 92 A36 36 0 1 1 92 92"/>
<path d="M50 82 A22 22 0 1 1 80 82"/>
</g>
<circle cx="65" cy="66" r="13" fill="#fff"/>
<rect x="59" y="82" width="12" height="52" rx="6" fill="#fff"/>
</svg>
</body></html>
